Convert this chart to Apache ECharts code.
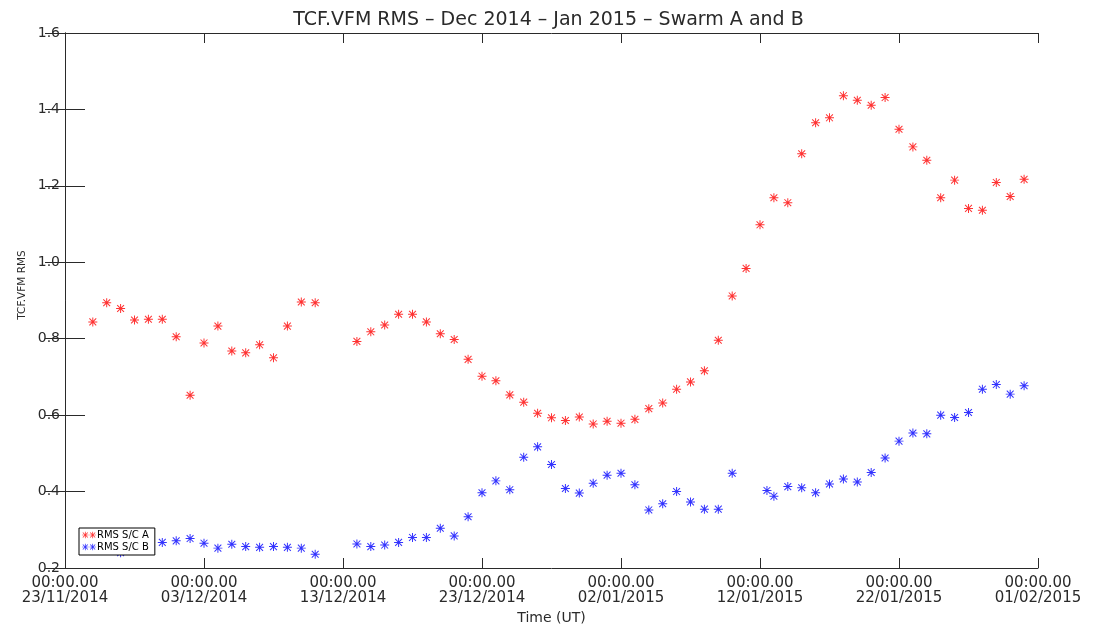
<!DOCTYPE html>
<html>
<head>
<meta charset="utf-8">
<title>TCF.VFM RMS</title>
<script src="https://cdn.jsdelivr.net/npm/echarts@6/dist/echarts.min.js"></script>
<style>
  html, body { margin: 0; padding: 0; background: #fff; }
  #chart { width: 1097px; height: 624px; }
</style>
</head>
<body>
<div id="chart"></div>
<script>
// Daily RMS samples, Swarm A (S/C A)
const redTimes = [
  '2014-11-25','2014-11-26','2014-11-27','2014-11-28','2014-11-29','2014-11-30',
  '2014-12-01','2014-12-02','2014-12-03','2014-12-04','2014-12-05','2014-12-06',
  '2014-12-07','2014-12-08','2014-12-09','2014-12-10','2014-12-11',
  '2014-12-14','2014-12-15','2014-12-16','2014-12-17','2014-12-18','2014-12-19',
  '2014-12-20','2014-12-21','2014-12-22','2014-12-23','2014-12-24','2014-12-25',
  '2014-12-26','2014-12-27','2014-12-28','2014-12-29','2014-12-30','2014-12-31',
  '2015-01-01','2015-01-02','2015-01-03','2015-01-04','2015-01-05','2015-01-06',
  '2015-01-07','2015-01-08','2015-01-09','2015-01-10','2015-01-11','2015-01-12',
  '2015-01-13','2015-01-14','2015-01-15','2015-01-16','2015-01-17','2015-01-18',
  '2015-01-19','2015-01-20','2015-01-21','2015-01-22','2015-01-23','2015-01-24',
  '2015-01-25','2015-01-26','2015-01-27','2015-01-28','2015-01-29','2015-01-30',
  '2015-01-31'
];
const redValues = [
  0.844, 0.894, 0.879, 0.849, 0.851, 0.851,
  0.805, 0.652, 0.789, 0.833, 0.768, 0.763,
  0.784, 0.750, 0.833, 0.896, 0.894,
  0.793, 0.818, 0.836, 0.864, 0.864, 0.844,
  0.813, 0.798, 0.746, 0.702, 0.690, 0.653,
  0.634, 0.605, 0.593, 0.586, 0.595, 0.577,
  0.584, 0.579, 0.589, 0.617, 0.632, 0.668,
  0.687, 0.716, 0.796, 0.912, 0.984, 1.098,
  1.169, 1.156, 1.284, 1.365, 1.378, 1.436,
  1.424, 1.411, 1.431, 1.348, 1.302, 1.267,
  1.169, 1.215, 1.141, 1.136, 1.209, 1.172,
  1.217
];

// Daily RMS samples, Swarm B (S/C B)
const blueTimes = [
  '2014-11-25','2014-11-26','2014-11-27','2014-11-28','2014-11-29','2014-11-30',
  '2014-12-01','2014-12-02','2014-12-03','2014-12-04','2014-12-05','2014-12-06',
  '2014-12-07','2014-12-08','2014-12-09','2014-12-10','2014-12-11',
  '2014-12-14','2014-12-15','2014-12-16','2014-12-17','2014-12-18','2014-12-19',
  '2014-12-20','2014-12-21','2014-12-22','2014-12-23','2014-12-24','2014-12-25',
  '2014-12-26','2014-12-27','2014-12-28','2014-12-29','2014-12-30','2014-12-31',
  '2015-01-01','2015-01-02','2015-01-03','2015-01-04','2015-01-05','2015-01-06',
  '2015-01-07','2015-01-08','2015-01-09','2015-01-10',
  '2015-01-12T12:00','2015-01-13','2015-01-14','2015-01-15','2015-01-16','2015-01-17',
  '2015-01-18','2015-01-19','2015-01-20','2015-01-21','2015-01-22','2015-01-23',
  '2015-01-24','2015-01-25','2015-01-26','2015-01-27','2015-01-28','2015-01-29',
  '2015-01-30','2015-01-31'
];
const blueValues = [
  0.270, 0.262, 0.240, 0.262, 0.268, 0.267,
  0.271, 0.277, 0.265, 0.252, 0.262, 0.256,
  0.254, 0.256, 0.254, 0.252, 0.236,
  0.263, 0.256, 0.260, 0.267, 0.280, 0.280,
  0.304, 0.284, 0.334, 0.397, 0.428, 0.405,
  0.490, 0.517, 0.471, 0.408, 0.396, 0.422,
  0.443, 0.448, 0.418, 0.352, 0.368, 0.400,
  0.373, 0.354, 0.354, 0.448,
  0.403, 0.388, 0.413, 0.410, 0.397, 0.420,
  0.433, 0.425, 0.450, 0.488, 0.532, 0.553,
  0.551, 0.600, 0.594, 0.607, 0.668, 0.680,
  0.655, 0.677
];

// Axis settings
const startDate = '2014-11-23';
const endDate = '2015-02-01';
const dayStep = 10;
const yTicks = [0.2, 0.4, 0.6, 0.8, 1.0, 1.2, 1.4, 1.6];

const DAY = 86400000;
const t0 = Date.parse(startDate + 'T00:00:00Z');
const toDay = s => (Date.parse((s.length > 10 ? s + ':00Z' : s + 'T00:00:00Z')) - t0) / DAY;
const pad = n => (n < 10 ? '0' : '') + n;
const dayLabel = d => {
  const dt = new Date(t0 + d * DAY);
  return '00:00.00\n' + pad(dt.getUTCDate()) + '/' + pad(dt.getUTCMonth() + 1) + '/' + dt.getUTCFullYear();
};

// Asterisk marker built from four thin bars
const STAR = 'M0 4.45H10V5.55H0Z M4.45 0H5.55V10H4.45Z M0.8 1.6L1.6 0.8L9.2 8.4L8.4 9.2Z M8.4 0.8L9.2 1.6L1.6 9.2L0.8 8.4Z';
const starPath = 'path://' + STAR;
const twoStars = 'path://' + STAR + ' ' + STAR.replace(/([MLH])([\d.]+)/g, (m, c, x) => c + (parseFloat(x) + 11));

const ink = '#2a2a2a';
const font = 'DejaVu Sans';

const chart = echarts.init(document.getElementById('chart'), null, { renderer: 'canvas' });

const axisLine = { show: true, lineStyle: { color: ink, width: 1 } };

chart.setOption({
  animation: false,
  backgroundColor: '#fff',
  title: {
    text: 'TCF.VFM RMS \u2013 Dec 2014 \u2013 Jan 2015 \u2013 Swarm A and B',
    left: 'center',
    top: 6,
    textStyle: { fontFamily: font, fontSize: 19, fontWeight: 'normal', color: ink }
  },
  graphic: [
    {
      type: 'text',
      x: 22,
      y: 285,
      rotation: Math.PI / 2,
      style: {
        text: 'TCF.VFM RMS',
        fontFamily: font,
        fontSize: 10.5,
        fill: ink,
        align: 'center',
        verticalAlign: 'middle'
      }
    }
  ],
  grid: { left: 65, right: 59, top: 33, bottom: 56, containLabel: false, outerBoundsMode: 'none' },
  legend: {
    left: 79,
    top: 528,
    orient: 'vertical',
    backgroundColor: '#fff',
    borderColor: '#000',
    borderWidth: 1,
    borderRadius: 0,
    padding: [2, 6, 3, 3],
    itemGap: 2,
    itemWidth: 14,
    itemHeight: 7,
    textStyle: { fontFamily: font, fontSize: 10, color: '#000', padding: [0, 0, 0, -4] },
    data: [
      { name: 'RMS S/C A', icon: twoStars },
      { name: 'RMS S/C B', icon: twoStars }
    ]
  },
  xAxis: [
    {
      type: 'value',
      position: 'bottom',
      min: 0,
      max: toDay(endDate),
      interval: dayStep,
      name: 'Time (UT)',
      nameLocation: 'middle',
      nameGap: 41,
      nameTextStyle: { fontFamily: font, fontSize: 14, color: ink },
      axisLine: axisLine,
      axisTick: { show: true, inside: true, length: 10, lineStyle: { color: ink } },
      axisLabel: {
        fontFamily: font, fontSize: 15, color: ink, lineHeight: 15, margin: 8,
        formatter: v => dayLabel(v)
      },
      splitLine: { show: false }
    },
    {
      type: 'value',
      position: 'top',
      min: 0,
      max: toDay(endDate),
      interval: dayStep,
      axisLine: axisLine,
      axisTick: { show: true, inside: true, length: 10, lineStyle: { color: ink } },
      axisLabel: { show: false },
      splitLine: { show: false }
    }
  ],
  yAxis: [
    {
      type: 'value',
      position: 'left',
      min: yTicks[0],
      max: yTicks[yTicks.length - 1],
      interval: 0.2,
      axisLine: axisLine,
      axisTick: { show: true, inside: true, length: 20, lineStyle: { color: ink } },
      axisLabel: { fontFamily: font, fontSize: 14, color: ink, margin: 5, formatter: v => v.toFixed(1) },
      splitLine: { show: false }
    },
    {
      type: 'value',
      position: 'right',
      min: yTicks[0],
      max: yTicks[yTicks.length - 1],
      interval: 0.2,
      axisLine: axisLine,
      axisTick: { show: true, inside: true, length: 20, lineStyle: { color: ink } },
      axisLabel: { show: false },
      splitLine: { show: false }
    }
  ],
  series: [
    {
      name: 'RMS S/C A',
      type: 'scatter',
      symbol: starPath,
      symbolSize: 9,
      itemStyle: { color: '#ff0000' },
      data: redTimes.map((t, i) => [toDay(t), redValues[i]])
    },
    {
      name: 'RMS S/C B',
      type: 'scatter',
      symbol: starPath,
      symbolSize: 9,
      itemStyle: { color: '#0000ff' },
      data: blueTimes.map((t, i) => [toDay(t), blueValues[i]])
    }
  ]
});
</script>
</body>
</html>
